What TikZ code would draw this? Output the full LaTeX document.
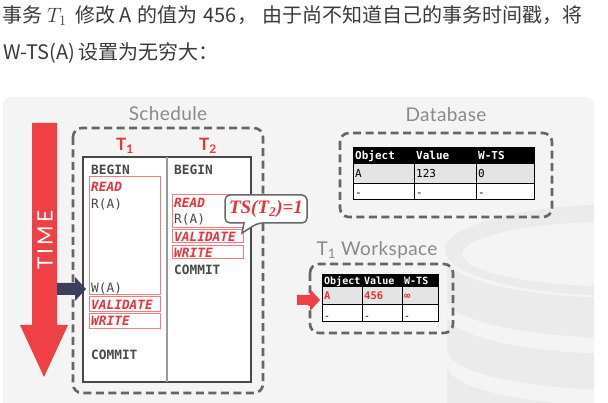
\documentclass[tikz,border=0pt]{standalone}
\usepackage{fontspec}
\newfontfamily\cjk{Noto Sans CJK SC}
\newfontfamily\titlefont[LetterSpace=2]{Lato}
\newfontfamily\hdfont{Lato}
\newfontfamily\timefont[LetterSpace=14]{Lato}
\newfontfamily\monofont{DejaVu Sans Mono}
\newfontfamily\serifb{Liberation Serif}
\definecolor{tred}{HTML}{E8333B}
\definecolor{ared}{HTML}{EF4046}
\definecolor{rbox}{HTML}{F27C80}
\definecolor{dgray}{HTML}{666666}
\definecolor{mgray}{HTML}{484848}
\definecolor{tgray}{HTML}{8A8A8A}
\definecolor{navy}{HTML}{3E3F5E}
\definecolor{panel}{HTML}{F4F4F4}
\definecolor{ghost}{HTML}{EBEBEB}
\definecolor{rowgray}{HTML}{E4E4E4}
\definecolor{maintext}{HTML}{3A3A3A}
\tikzset{
  dbox/.style={draw=dgray, line width=2.6pt, dash pattern=on 8pt off 4.5pt, rounded corners=9pt},
  redbox/.style={draw=rbox, line width=1pt, fill=white},
  mono/.style={font=\monofont\fontsize{12.8}{12.8}\selectfont, text=mgray, inner sep=0pt, anchor=base west},
  monob/.style={mono, font=\monofont\bfseries\fontsize{12.8}{12.8}\selectfont},
  act/.style={mono, font=\monofont\bfseries\itshape\fontsize{12.8}{12.8}\selectfont, text=tred},
  title/.style={font=\titlefont\fontsize{19}{19}\selectfont, text=tgray, inner sep=0pt},
  thead/.style={font=\hdfont\bfseries\fontsize{17}{17}\selectfont, text=tred, inner sep=0pt},
  cell/.style={draw=black, line width=1pt},
  dbtxt/.style={font=\monofont\fontsize{11}{11}\selectfont, text=black, inner sep=0pt, anchor=base west},
  dbhd/.style={font=\monofont\bfseries\fontsize{11}{11}\selectfont, text=white, inner sep=0pt, anchor=base west},
  wstxt/.style={font=\monofont\fontsize{10}{10}\selectfont, text=black, inner sep=0pt, anchor=base west},
  wshd/.style={font=\monofont\bfseries\fontsize{10}{10}\selectfont, text=white, inner sep=0pt, anchor=base west},
  wsred/.style={font=\monofont\bfseries\fontsize{10.5}{10.5}\selectfont, text=tred, inner sep=0pt, anchor=base west},
  headline/.style={anchor=base west, inner sep=0pt, font=\cjk\fontsize{20}{20}\selectfont, text=maintext},
}
\begin{document}
\begin{tikzpicture}[x=1pt,y=-1pt]
\useasboundingbox (0,0) rectangle (608,403);
\fill[white] (0,0) rectangle (608,403);
% heading text
\node[headline] (h1a) at (2,22.5) {事务};
\node[headline, font=\fontsize{20}{20}\selectfont] (h1b) at (47,22.5) {$T_1$};
\node[headline] (h1c) at (75,22.5) {修改};
\node[headline] (h1d) at (119,22.5) {A};
\node[headline] (h1e) at (137,22.5) {的值为};
\node[headline] (h1f) at (203,22.5) {456};
\node[headline] (h1g) at (237,22.5) {，};
\node[headline] (h1h) at (262,22.5) {由于尚不知道自己的事务时间戳，将};
\node[headline] (h2a) at (3,60) {W-TS(A)};
\node[headline] (h2b) at (78,60) {设置为无穷大：};
% slide panel
\fill[panel, rounded corners=8pt] (3,97) rectangle (594,420);
% ghost database cylinder
\begin{scope}
\clip[rounded corners=8pt] (3,97) rectangle (594,420);
\fill[ghost, even odd rule] (625,250) ellipse [x radius=180, y radius=46] (628,254) ellipse [x radius=166, y radius=33];
\fill[ghost] (447,258) arc[start angle=180, end angle=0, x radius=178, y radius=40] -- (803,298) arc[start angle=0, end angle=180, x radius=178, y radius=40] -- cycle;
\fill[ghost] (447,314) arc[start angle=180, end angle=0, x radius=178, y radius=40] -- (803,350) arc[start angle=0, end angle=180, x radius=178, y radius=40] -- cycle;
\fill[ghost] (447,366) arc[start angle=180, end angle=0, x radius=178, y radius=40] -- (803,440) arc[start angle=0, end angle=180, x radius=178, y radius=40] -- cycle;
\end{scope}
% TIME arrow
\fill[ared] (32,123) -- (57,123) -- (57,325) -- (68,325) -- (44,377) -- (20,325) -- (32,325) -- cycle;
\node[font=\timefont\fontsize{21}{21}\selectfont, text=white, rotate=90, inner sep=0pt] (time) at (45,240) {TIME};
% Schedule
\node[title] (schedT) at (168,114) {Schedule};
\draw[dbox] (73,128) rectangle (263,393);
\fill[white] (83,157) rectangle (251,382);
\draw[draw=mgray, line width=1.3pt] (83,157) rectangle (251,382);
\draw[draw=gray!80, line width=1.3pt] (167,157) -- (167,382);
\node[thead] (t1) at (125,146) {T\textsubscript{1}};
\node[thead] (t2) at (208,146) {T\textsubscript{2}};
% column 1
\node[monob] (c1begin) at (91,174.5) {BEGIN};
\draw[redbox] (89,177) rectangle (160,295);
\node[act] (c1read) at (91,191.5) {READ};
\node[mono] (c1ra) at (91,208.5) {R(A)};
\node[mono] (c1wa) at (91,292.5) {W(A)};
\draw[redbox] (89,297) rectangle (160,312);
\node[act] (c1val) at (91,309.5) {VALIDATE};
\draw[redbox] (89,314) rectangle (160,329);
\node[act] (c1wr) at (91,325.5) {WRITE};
\node[monob] (c1commit) at (91,359.5) {COMMIT};
% column 2
\node[monob] (c2begin) at (174,174.5) {BEGIN};
\draw[redbox] (172,195) rectangle (243,228);
\node[act] (c2read) at (174,207.5) {READ};
\node[mono] (c2ra) at (174,223.5) {R(A)};
\draw[redbox] (172,230) rectangle (243,243);
\node[act] (c2val) at (174,241.5) {VALIDATE};
\draw[redbox] (172,246) rectangle (243,259);
\node[act] (c2wr) at (174,257.5) {WRITE};
\node[monob] (c2commit) at (174,274.5) {COMMIT};
% callout
\draw[draw=dgray, line width=1.5pt, fill=white, rounded corners=5pt] (266,195) -- (307,195) -- (307,223) -- (258,223) [sharp corners] -- (242,233) -- (244,223) [rounded corners=5pt] -- (225,223) -- (225,195) -- cycle;
\node[font=\serifb\bfseries\itshape\fontsize{19}{19}\selectfont, text=tred, inner sep=0pt] (ts) at (266,209) {TS(T\textsubscript{2})=1};
% navy arrow
\fill[navy] (57,283) -- (75,283) -- (75,277) -- (86,289) -- (75,301) -- (75,295) -- (57,295) -- cycle;
% Database
\node[title] (dbT) at (446,115) {Database};
\draw[dbox] (340,133) rectangle (552,217);
\fill[black] (353,148) rectangle (534,164);
\fill[rowgray] (353,164) rectangle (534,184);
\fill[white] (353,184) rectangle (534,200);
\draw[cell] (353,148) rectangle (534,200);
\draw[cell] (353,184) -- (534,184);
\draw[cell] (414,164) -- (414,200);
\draw[cell] (476,164) -- (476,200);
\node[dbhd] (dbh1) at (355,160) {Object};
\node[dbhd] (dbh2) at (416,160) {Value};
\node[dbhd] (dbh3) at (478,160) {W-TS};
\node[dbtxt] (db11) at (355,178) {A};
\node[dbtxt] (db12) at (416,178) {123};
\node[dbtxt] (db13) at (478,178) {0};
\node[dbtxt] (db21) at (355,197) {-};
\node[dbtxt] (db22) at (416,197) {-};
\node[dbtxt] (db23) at (478,197) {-};
% Workspace
\node[title] (wsT) at (377,250) {T\textsubscript{1} Workspace};
\draw[dbox] (310,264) rectangle (453,333);
\fill[black] (322,275) rectangle (438,287);
\fill[rowgray] (322,287) rectangle (438,305);
\fill[white] (322,305) rectangle (438,322);
\draw[cell] (322,275) rectangle (438,322);
\draw[cell] (322,305) -- (438,305);
\draw[cell] (362,287) -- (362,322);
\draw[cell] (402,287) -- (402,322);
\node[wshd] (wsh1) at (324,284.5) {Object};
\node[wshd] (wsh2) at (364,284.5) {Value};
\node[wshd] (wsh3) at (404,284.5) {W-TS};
\node[wsred] (ws11) at (324,300) {A};
\node[wsred] (ws12) at (364,300) {456};
\node[wsred] (ws13) at (404,300) {∞};
\node[wstxt] (ws21) at (324,320) {-};
\node[wstxt] (ws22) at (364,320) {-};
\node[wstxt] (ws23) at (404,320) {-};
% red arrow
\fill[ared] (297,295) -- (310,295) -- (310,289) -- (320,300) -- (310,311) -- (310,305) -- (297,305) -- cycle;
\end{tikzpicture}
\end{document}
